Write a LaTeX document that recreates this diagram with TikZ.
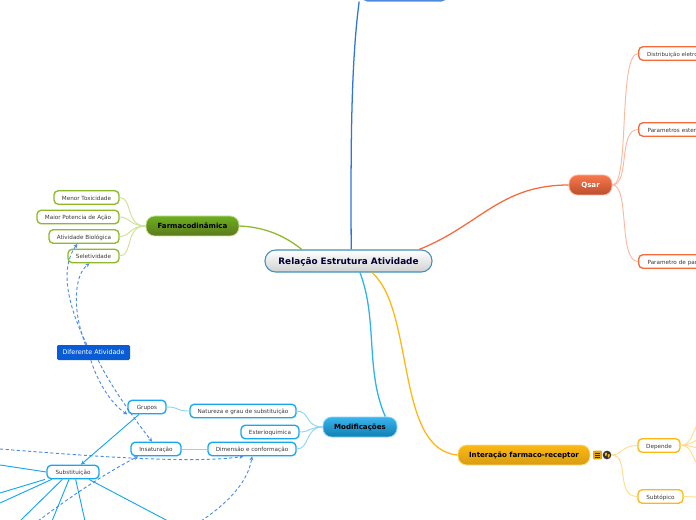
\documentclass[tikz,border=0pt]{standalone}
\usepackage{fontspec}
\setmainfont{DejaVu Sans}
\usetikzlibrary{arrows.meta}
\definecolor{cblue}{HTML}{16A8EC}
\definecolor{cbluel}{HTML}{8FD6F5}
\definecolor{cgreen}{HTML}{8DB92A}
\definecolor{cgreenl}{HTML}{CFE29A}
\definecolor{cred}{HTML}{F8693A}
\definecolor{credl}{HTML}{FDB9A0}
\definecolor{cyel}{HTML}{FDB813}
\definecolor{cyell}{HTML}{FEDD8E}
\definecolor{croyal}{HTML}{0A5CD6}
\definecolor{cdash}{HTML}{4A8DE8}
\definecolor{ctext}{HTML}{3A3A3A}
\tikzset{
  boxw/.style={minimum width=#1*0.75pt},
  boxh/.style={minimum height=#1*0.75pt},
  leaf/.style={draw=#1,line width=1pt,fill=white,rounded corners=3.2pt,inner sep=0pt,text=ctext,font=\fontsize{4.25}{5}\selectfont,boxh=13.5,text height=4pt,text depth=0.2pt},
  mainnode/.style={rounded corners=6.5pt,inner sep=0pt,boxh=20,font=\bfseries\fontsize{5.3}{6}\selectfont,text height=4.8pt,text depth=0.5pt},
  branch/.style={line width=0.95pt},
  twig/.style={line width=0.7pt},
  dlink/.style={draw=cdash,line width=0.7pt,dash pattern=on 2.4pt off 1.8pt,-{Stealth[length=3pt,width=3pt]}},
  slink/.style={draw=cblue,line width=0.7pt},
}
\begin{document}
\begin{tikzpicture}[x=0.75pt,y=-0.75pt]
\useasboundingbox (0,0) rectangle (696,520);
\clip (0,0) rectangle (696,520);
\fill[white] (0,0) rectangle (696,520);
% main nodes
\node[rounded corners=8pt,inner sep=0pt,boxw=167,boxh=22,draw=cblue!70!black!80,line width=0.8pt,top color=white,bottom color=black!18,text=black!80!blue,font=\bfseries\fontsize{6.65}{7}\selectfont,text height=5.6pt,text depth=0.7pt] (cen) at (348.5,261) {Relação Estrutura Atividade};
\node[mainnode,boxw=93,draw=cgreenl,line width=0.6pt,top color=cgreen!85!green!90!black,bottom color=cgreen!65!black,text=black] (farm) at (192.5,226) {Farmacodinâmica};
\node[mainnode,boxw=74,draw=cbluel,line width=0.6pt,top color=cblue!85,bottom color=cblue!75!black,text=black] (mod) at (360,427) {Modificações};
\node[mainnode,boxw=132,draw=cyell,line width=0.6pt,top color=cyel,bottom color=cyel!85!black,text=black] (int) at (524,455) {Interação farmaco-receptor};
\node[mainnode,boxw=43,draw=credl,line width=0.6pt,top color=cred!90,bottom color=cred!75!black,text=white] (qsar) at (590.5,185) {Qsar};
\node[rounded corners=4pt,inner sep=0pt,boxw=85,boxh=22,draw=croyal!70,line width=0.8pt,fill=croyal!75] (top) at (404.5,-10) {};
% green leaves
\node[leaf=cgreen,boxw=65] (l1) at (86.5,197.5) {Menor Toxicidade};
\node[leaf=cgreen,boxw=82] (l2) at (78,217) {Maior Potencia de Ação};
\node[leaf=cgreen,boxw=70] (l3) at (84,236.5) {Atividade Biológica};
\node[leaf=cgreen,boxw=51] (l4) at (93.5,256) {Seletividade};
% blue
\node[leaf=cblue,boxw=106] (b1) at (243,411) {Natureza e grau de substituição};
\node[leaf=cblue,boxw=58] (b2) at (270,432) {Esterioquimica};
\node[leaf=cblue,boxw=88] (b3) at (252,449) {Dimensão e conformação};
\node[leaf=cblue,boxw=38] (gr) at (147,407) {Grupos};
\node[leaf=cblue,boxw=50] (ins) at (156,449) {Insaturação};
\node[leaf=cblue,boxw=52] (sub) at (73,472) {Substituição};
\node[rounded corners=1pt,inner sep=0pt,boxw=73,boxh=15,fill=croyal,text=white,font=\fontsize{4.8}{6}\selectfont,text height=3.5pt,text depth=1pt] (dif) at (93.5,352.5) {Diferente Atividade};
% yellow
\node[leaf=cyel,boxw=42] (dep) at (659,445.5) {Depende};
\node[leaf=cyel,boxw=45] (subt) at (660.5,496.5) {Subtópico};
% red
\node[leaf=cred,anchor=west,boxw=100,text width=75pt,align=left] (q1) at (638,53.5) {\hspace*{6.4pt}\fontsize{4.1}{5}\selectfont Distribuição eletro};
\node[leaf=cred,anchor=west,boxw=100,text width=75pt,align=left] (q2) at (638,129.5) {\hspace*{6.7pt}Parametros esteri};
\node[leaf=cred,anchor=west,boxw=100,text width=75pt,align=left] (q3) at (638,261.5) {\hspace*{6.7pt}Parametro de par};
% icons
\node[fill=cyel!90!black,rounded corners=0.6pt,minimum size=6.5pt,inner sep=0pt] (ic1) at (597.5,455) {};
\draw[black!80,line width=0.5pt] (595,453) -- (600,453) (595,455) -- (600,455) (595,457) -- (600,457);
\node[circle,fill=black!80,minimum size=6.5pt,inner sep=0pt] (ic2) at (607,455) {};
\fill[cyel] (604.8,453) -- (607,452.6) -- (606.6,455.6) -- (605.2,455.8) -- cycle;
\fill[cyel] (608,454.2) -- (610,454.4) -- (609,457.8) -- (607.8,456.6) -- cycle;
% top-level connectors
\draw[branch,draw=croyal!85] ([xshift=2pt]cen.north) .. controls (351,170) and (350,70) .. ([xshift=-34pt]top.south);
\draw[branch,draw=cgreen] ([xshift=-35pt]cen.north) .. controls (285,236) and (265,227) .. (farm.east);
\draw[branch,draw=cred] ([xshift=53pt]cen.north) .. controls (480,225) and (500,185) .. (qsar.west);
\draw[branch,draw=cblue!90] ([xshift=8.6pt]cen.south) .. controls (378,320) and (365,370) .. ([xshift=19pt]mod.north);
\draw[branch,draw=cyel] ([xshift=17.6pt]cen.south) .. controls (415,310) and (395,450) .. (int.west);
% green twigs
\draw[twig,draw=cgreenl] (l1.east) .. controls (133,197.5) and (125,226) .. (farm.west);
\draw[twig,draw=cgreenl] (l2.east) .. controls (130,217) and (130,226) .. (farm.west);
\draw[twig,draw=cgreenl] (l3.east) .. controls (130,236.5) and (130,226) .. (farm.west);
\draw[twig,draw=cgreenl] (l4.east) .. controls (133,256) and (125,226) .. (farm.west);
% blue twigs
\draw[twig,draw=cbluel] (b1.east) .. controls (310,411) and (305,427) .. (mod.west);
\draw[twig,draw=cbluel] (b2.east) .. controls (310,432) and (310,427) .. (mod.west);
\draw[twig,draw=cbluel] (b3.east) .. controls (310,449) and (305,427) .. (mod.west);
\draw[twig,draw=cbluel] (gr.east) .. controls (180,407) and (175,411) .. (b1.west);
\draw[twig,draw=cbluel] (ins.east) -- (b3.west);
% substitution links
\coordinate (s1) at (0,465);
\coordinate (s2) at (0,493);
\coordinate (s3) at (0,503);
\coordinate (s4) at (20,521);
\coordinate (s5) at (52,521);
\coordinate (s6) at (85,521);
\coordinate (s7) at (168,521);
\draw[slink,-{Stealth[length=3pt,width=3pt]}] ([xshift=-6pt]gr.south) -- ([xshift=6pt]sub.north);
\draw[slink] (sub.west) -- (s1);
\draw[slink] ([xshift=-1pt]sub.south west) -- (s2);
\draw[slink] ([xshift=4pt]sub.south west) -- (s3);
\draw[slink] ([xshift=-8pt]sub.south) -- (s4);
\draw[slink] ([xshift=-3pt]sub.south) -- (s5);
\draw[slink] ([xshift=2pt]sub.south) -- (s6);
\draw[slink] ([xshift=12pt]sub.south) -- (s7);
% dashed links
\coordinate (d1) at (0,449);
\coordinate (d2) at (38,521);
\coordinate (d3) at (201,521);
\draw[dlink] (d1) .. controls (90,456) and (190,464) .. ([xshift=-6.5pt]b3.south);
\draw[dlink] (d2) .. controls (62,503) and (100,476) .. ([xshift=-13.5pt]ins.south);
\draw[dlink] (d3) .. controls (228,503) and (248,482) .. (b3.south);
\draw[dlink] ([xshift=-2pt]dif.south) .. controls (97,380) and (110,403) .. (gr.south west);
\draw[dlink] ([xshift=3.5pt]dif.south) .. controls (110,385) and (135,420) .. ([xshift=-3pt]ins.north);
\draw[dlink] ([xshift=-5pt]dif.north) .. controls (70,310) and (58,270) .. ([xshift=-5pt]l3.south);
\draw[dlink] ([xshift=-6pt]dif.north) .. controls (72,310) and (74,275) .. ([xshift=-3pt]l4.south);
% red twigs
\draw[twig,draw=credl] (qsar.east) .. controls (630,185) and (618,53.5) .. (q1.west);
\draw[twig,draw=credl] (qsar.east) .. controls (630,185) and (618,129.5) .. (q2.west);
\draw[twig,draw=credl] (qsar.east) .. controls (630,185) and (618,261.5) .. (q3.west);
% yellow twigs
\coordinate (y1) at (697,425);
\coordinate (y2) at (697,440);
\coordinate (y3) at (697,448);
\coordinate (y4) at (697,464);
\coordinate (y5) at (697,497);
\draw[twig,draw=cyell] (ic2.east) .. controls (622,455) and (622,445.5) .. (dep.west);
\draw[twig,draw=cyell] (ic2.east) .. controls (630,455) and (615,496.5) .. (subt.west);
\draw[twig,draw=cyell] (dep.east) .. controls (691,445) and (692,434) .. (y1);
\draw[twig,draw=cyell] (dep.east) .. controls (690,445) and (692,442) .. (y2);
\draw[twig,draw=cyell] (dep.east) .. controls (690,445) and (692,447) .. (y3);
\draw[twig,draw=cyell] (dep.east) .. controls (691,445) and (692,456) .. (y4);
\draw[twig,draw=cyell] (subt.east) -- (y5);
\end{tikzpicture}
\end{document}
